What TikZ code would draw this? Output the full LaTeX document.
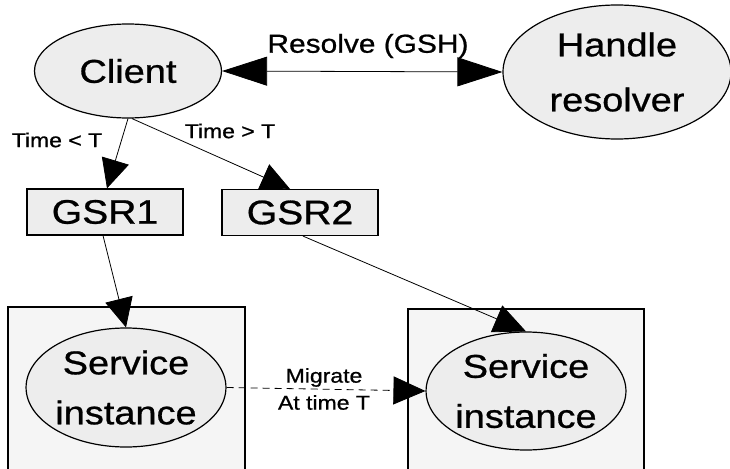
\documentclass[tikz,border=0pt]{standalone}
\usepackage{fontspec}
\setmainfont{Liberation Sans}[FakeStretch=1.15,FakeBold=0.8]
\usetikzlibrary{arrows.meta,shapes.geometric}
\tikzset{
  shapeline/.style={draw=black, line width=1.2pt, fill=black!7},
  ell/.style={shapeline, ellipse, inner sep=0pt},
  gsr/.style={shapeline, rectangle, inner sep=0pt, minimum width=156pt, minimum height=46pt, font=\fontsize{34}{40}\selectfont},
  container/.style={draw=black, line width=1.3pt, fill=black!4},
  conn/.style={draw=black, line width=0.8pt},
  arr/.style={conn, -{Triangle[length=29pt,width=28pt]}},
  lbl/.style={inner sep=0pt, align=center},
}
\begin{document}
\begin{tikzpicture}[x=1pt, y=-1pt]
\useasboundingbox (0,0) rectangle (730,468);
\clip (0,0) rectangle (730,468);
\fill[white] (0,0) rectangle (730,468);

% containers
\draw[container] (8,307) -- (8,490) -- (245,490) -- (245,307) -- cycle;
\draw[container] (408,309) -- (408,490) -- (644,490) -- (644,309) -- cycle;

% nodes
\node[ell, minimum width=187pt, minimum height=94pt, font=\fontsize{33}{40}\selectfont] (client) at (128,71) {Client};
\node[ell, minimum width=228pt, minimum height=134pt, align=center, font=\fontsize{33}{55}\selectfont] (handle) at (617,72) {Handle\\resolver};
\node[gsr] (gsr1) at (105,212) {GSR1};
\node[gsr] (gsr2) at (300,212.5) {GSR2};
\node[ell, minimum width=191pt, minimum height=119pt, align=center, font=\fontsize{33}{50}\selectfont] (si1) at (126,387.5) {Service\\instance};
\node[ell, minimum width=191pt, minimum height=118pt, align=center, font=\fontsize{33}{50}\selectfont] (si2) at (526,391) {Service\\instance};

% connectors
\draw[conn, {Triangle[length=45pt,width=29pt]}-{Triangle[length=45pt,width=29pt]}] (client.east) -- (handle.west);
\draw[arr] (client.south) -- ([xshift=2pt]gsr1.north);
\draw[arr] ([xshift=4pt]client.south) -- ([xshift=-10pt]gsr2.north);
\draw[arr] ([xshift=-2pt]gsr1.south) -- (si1.north);
\draw[arr, -{Triangle[length=32pt,width=29pt]}] ([xshift=3pt]gsr2.south) -- (si2.north);
\draw[conn, dash pattern=on 7pt off 5pt, -{Triangle[length=32pt,width=28pt]}] (si1.east) -- (si2.west);

% labels
\node[lbl, font=\fontsize{26}{30}\selectfont] (lres) at (368,46) {Resolve (GSH)};
\node[lbl, font=\fontsize{20}{24}\selectfont] (llt) at (57,140) {Time < T};
\node[lbl, font=\fontsize{20}{24}\selectfont] (lgt) at (230,131) {Time > T};
\node[lbl, font=\fontsize{20}{27}\selectfont] (lmig) at (324,389) {Migrate\\At time T};
\end{tikzpicture}
\end{document}
